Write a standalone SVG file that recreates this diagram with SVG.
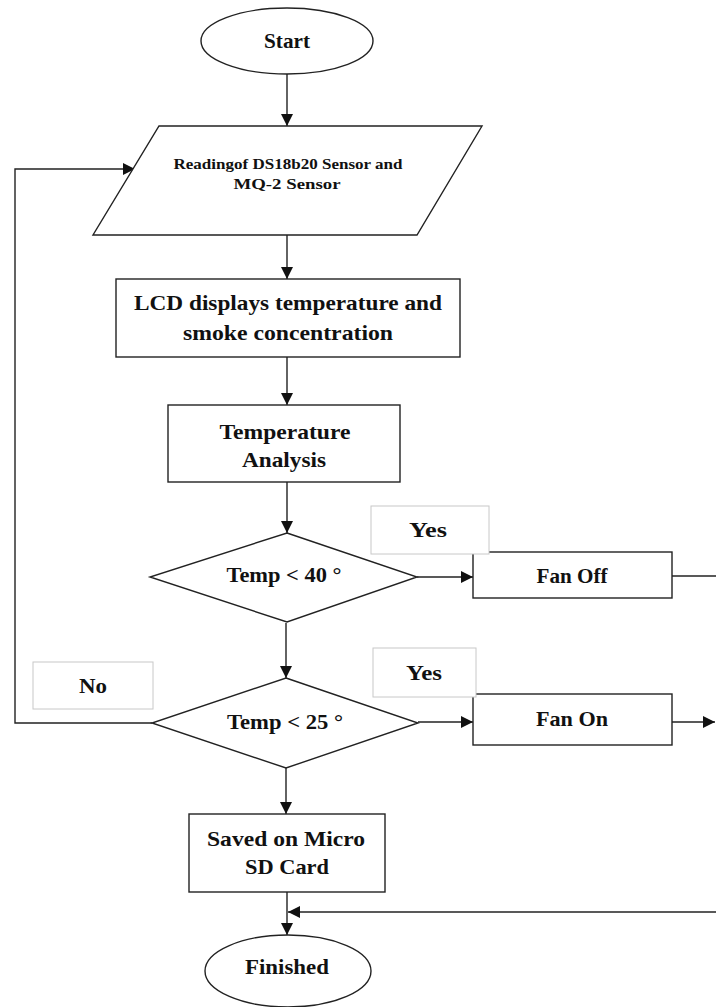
<svg xmlns="http://www.w3.org/2000/svg" width="716" height="1007" viewBox="0 0 716 1007">
<style>
.shape{fill:#fff;stroke:#222;stroke-width:1.4}
.lbl{fill:#fff;stroke:#c8c8c8;stroke-width:1}
.edge{fill:none;stroke:#222;stroke-width:1.4}
text{font-family:"Liberation Serif","Times New Roman",serif;font-weight:bold;fill:#111;text-anchor:middle}
.t{font-size:21px}
.s{font-size:15px}
</style>
<defs>
<marker id="ah" markerUnits="userSpaceOnUse" markerWidth="13" markerHeight="12" refX="12" refY="6" orient="auto">
<path d="M0,0 L12,6 L0,12 z" fill="#111"/>
</marker>
</defs>
<rect width="716" height="1007" fill="#fff"/>
<g id="connectors">
<line class="edge" x1="287" y1="74" x2="287" y2="126" marker-end="url(#ah)"/>
<line class="edge" x1="287" y1="235" x2="287" y2="279" marker-end="url(#ah)"/>
<line class="edge" x1="287" y1="357" x2="287" y2="405" marker-end="url(#ah)"/>
<line class="edge" x1="287" y1="482" x2="287" y2="533" marker-end="url(#ah)"/>
<line class="edge" x1="417" y1="577" x2="473" y2="577" marker-end="url(#ah)"/>
<line class="edge" x1="672" y1="576" x2="716" y2="576"/>
<line class="edge" x1="286" y1="623" x2="286" y2="678" marker-end="url(#ah)"/>
<line class="edge" x1="418" y1="722" x2="473" y2="722" marker-end="url(#ah)"/>
<line class="edge" x1="672" y1="722" x2="715" y2="722" marker-end="url(#ah)"/>
<polyline class="edge" points="152,723 15,723 15,169 135,169" marker-end="url(#ah)"/>
<line class="edge" x1="286" y1="768" x2="286" y2="814" marker-end="url(#ah)"/>
<line class="edge" x1="287" y1="892" x2="287" y2="935" marker-end="url(#ah)"/>
<line class="edge" x1="716" y1="912" x2="288" y2="912" marker-end="url(#ah)"/>
</g>
<g id="start">
<ellipse class="shape" cx="287" cy="41" rx="86" ry="33"/>
<text class="t" x="287" y="48" textLength="46" lengthAdjust="spacingAndGlyphs">Start</text>
</g>
<g id="read">
<polygon class="shape" points="159,126 482,126 417,235 93,235"/>
<text class="s" x="288" y="169" textLength="229" lengthAdjust="spacingAndGlyphs">Readingof DS18b20 Sensor and</text>
<text class="s" x="287" y="189" textLength="107" lengthAdjust="spacingAndGlyphs">MQ-2 Sensor</text>
</g>
<g id="lcd">
<rect class="shape" x="116" y="279" width="344" height="78"/>
<text class="t" x="288" y="310" textLength="308" lengthAdjust="spacingAndGlyphs">LCD displays temperature and</text>
<text class="t" x="288" y="340" textLength="210" lengthAdjust="spacingAndGlyphs">smoke concentration</text>
</g>
<g id="analysis">
<rect class="shape" x="168" y="405" width="232" height="77"/>
<text class="t" x="285" y="439" textLength="131" lengthAdjust="spacingAndGlyphs">Temperature</text>
<text class="t" x="284" y="467" textLength="84" lengthAdjust="spacingAndGlyphs">Analysis</text>
</g>
<g id="dec40">
<polygon class="shape" points="287,533 417,577 287,622 150,577"/>
<text class="t" x="284" y="582" textLength="115" lengthAdjust="spacingAndGlyphs">Temp &lt; 40 °</text>
</g>
<g id="fanoff">
<rect class="shape" x="473" y="552" width="199" height="46"/>
<text class="t" x="572" y="583" textLength="71" lengthAdjust="spacingAndGlyphs">Fan Off</text>
</g>
<g id="yes1">
<rect class="lbl" x="371" y="506" width="118" height="48"/>
<text class="t" x="428" y="537" textLength="38" lengthAdjust="spacingAndGlyphs">Yes</text>
</g>
<g id="dec25">
<polygon class="shape" points="286,678 418,723 286,768 152,723"/>
<text class="t" x="285" y="729" textLength="116" lengthAdjust="spacingAndGlyphs">Temp &lt; 25 °</text>
</g>
<g id="no">
<rect class="lbl" x="33" y="662" width="120" height="47"/>
<text class="t" x="93" y="693" textLength="28" lengthAdjust="spacingAndGlyphs">No</text>
</g>
<g id="fanon">
<rect class="shape" x="473" y="694" width="199" height="51"/>
<text class="t" x="572" y="726" textLength="72" lengthAdjust="spacingAndGlyphs">Fan On</text>
</g>
<g id="yes2">
<rect class="lbl" x="373" y="648" width="103" height="49"/>
<text class="t" x="424" y="680" textLength="36" lengthAdjust="spacingAndGlyphs">Yes</text>
</g>
<g id="saved">
<rect class="shape" x="189" y="814" width="196" height="78"/>
<text class="t" x="286" y="846" textLength="158" lengthAdjust="spacingAndGlyphs">Saved on Micro</text>
<text class="t" x="287" y="874" textLength="84" lengthAdjust="spacingAndGlyphs">SD Card</text>
</g>
<g id="finished">
<ellipse class="shape" cx="288" cy="971" rx="83" ry="36"/>
<text class="t" x="287" y="974" textLength="84" lengthAdjust="spacingAndGlyphs">Finished</text>
</g>
</svg>
